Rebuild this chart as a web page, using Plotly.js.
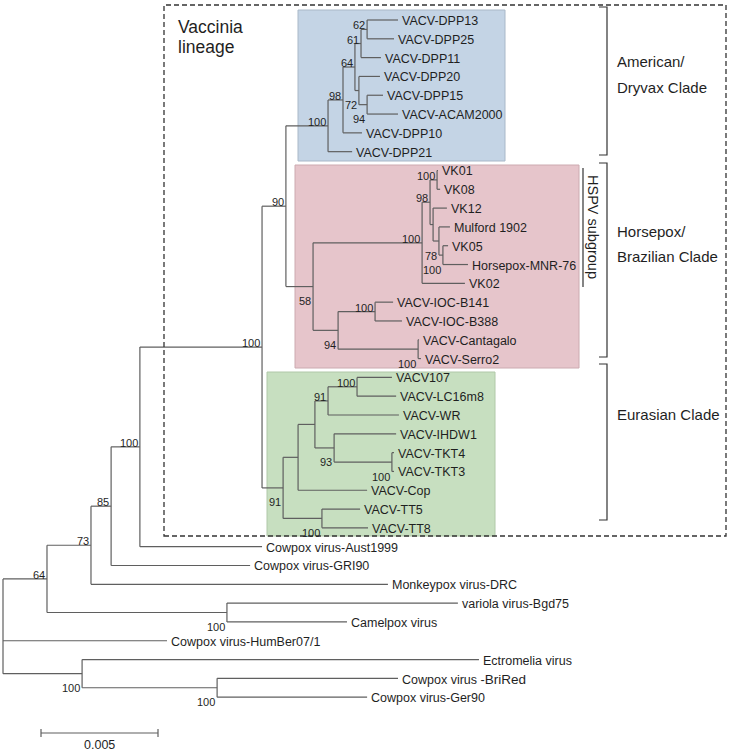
<!DOCTYPE html>
<html><head><meta charset="utf-8">
<script src="https://cdn.plot.ly/plotly-3.0.1.min.js"></script>
<style>html,body{margin:0;padding:0;background:#fff}#chart{width:729px;height:751px}</style>
</head><body><div id="chart"></div>
<script>
// ---------- DATA ----------
// Internal nodes (depth = distance from root, in 0.001 substitutions/site)
const nodeIds     = ['root','n64','n73','n85','n100a','vac','n90','am','am98','am64','am61','am62','am72','am94',
                     'n58','hs','hs98','hs100','hsX','hs78','hsVH','br94','ioc','ser',
                     'eu','eu1','eu2','eu91','eu100','eu93','tkt','tt','vc','ec','bg'];
const nodeParent  = [null,'root','n64','n73','n85','n100a','vac','n90','am','am98','am64','am61','am64','am72',
                     'n90','n58','hs','hs98','hs98','hsX','hs78','n58','br94','br94',
                     'vac','eu','eu1','eu2','eu91','eu2','eu93','eu','n64','root','ec'];
const nodeDepth   = [0,1.88,3.76,4.62,5.85,11.07,12.09,13.89,14.53,15.04,15.30,15.56,15.21,15.56,
                     13.25,17.91,18.25,18.55,18.38,18.63,18.80,14.32,15.90,17.74,
                     11.97,12.61,13.33,13.89,15.13,14.15,16.62,13.63,9.57,3.38,9.15];
const nodeSupport = ['','64','73','85','100','100','90','100','98','64','61','62','72','94',
                     '58','100','98','100','','78','100','94','100','100',
                     '91','','','91','100','93','100','100','100','100','100'];
const supportSide = ['a','a','a','a','a','a','a','a','a','a','a','a','b','b',
                     'b','a','a','a','a','b','b','b','a','b',
                     'b','a','a','a','a','b','b','b','b','b','b'];

// Leaves, in drawing order (top to bottom)
const leafNames  = ['VACV-DPP13','VACV-DPP25','VACV-DPP11','VACV-DPP20','VACV-DPP15','VACV-ACAM2000','VACV-DPP10','VACV-DPP21',
                    'VK01','VK08','VK12','Mulford 1902','VK05','Horsepox-MNR-76','VK02',
                    'VACV-IOC-B141','VACV-IOC-B388','VACV-Cantagalo','VACV-Serro2',
                    'VACV107','VACV-LC16m8','VACV-WR','VACV-IHDW1','VACV-TKT4','VACV-TKT3','VACV-Cop','VACV-TT5','VACV-TT8',
                    'Cowpox virus-Aust1999','Cowpox virus-GRI90','Monkeypox virus-DRC','variola virus-Bgd75','Camelpox virus',
                    'Cowpox virus-HumBer07/1','Ectromelia virus','Cowpox virus -<span style="font-size:13.5px">BriRed</span>','Cowpox virus-Ger90'];
const leafParent = ['am62','am62','am61','am72','am94','am94','am98','am',
                    'hs100','hs100','hsX','hs78','hsVH','hsVH','hs',
                    'ioc','ioc','ser','ser',
                    'eu100','eu100','eu91','eu93','tkt','tkt','eu1','tt','tt',
                    'n100a','n85','n73','vc','vc',
                    'root','ec','bg','bg'];
const leafDepth  = [16.88,16.71,16.15,16.11,16.24,16.88,15.34,14.92,
                    18.59,18.68,18.97,19.10,19.02,19.87,19.74,
                    16.67,17.05,17.78,17.86,
                    16.62,16.80,16.92,16.80,16.71,16.71,15.56,15.26,15.60,
                    11.07,10.56,16.45,19.44,14.70,
                    7.01,20.34,16.88,15.56];

const scaleBarValue = 0.005;     // substitutions/site
const scaleBarLabel = '0.005';
const cladeNames = [['American/','Dryvax Clade'],['Horsepox/','Brazilian Clade'],['Eurasian Clade']];
const lineageLabel = ['Vaccinia','lineage'];
const subgroupLabel = 'HSPV subgroup';

// ---------- LAYOUT HELPERS ----------
const W = 729, H = 751;
const unitPx = 23.4, rootPx = 3;     // px per 0.001 subs/site
const rowPx = 18.81, topPx = 20;
const px = v => v / W, py = v => 1 - v / H;

// ---------- BUILD TREE ----------
const info = {};
nodeIds.forEach((id,i)=>{ info[id] = {depth:nodeDepth[i], parent:nodeParent[i], kids:[], sup:nodeSupport[i], side:supportSide[i]}; });
leafNames.forEach((n,i)=>{ const id='leaf'+i; info[id]={depth:leafDepth[i], parent:leafParent[i], kids:[], y:i, leaf:true, name:n}; });
Object.keys(info).forEach(id=>{ const p=info[id].parent; if(p) info[p].kids.push(id); });
function getY(id){
  const n = info[id];
  if (n.y !== undefined) return n.y;
  const ys = n.kids.map(getY);
  n.ymin = Math.min(...ys); n.ymax = Math.max(...ys);
  n.y = (n.ymin + n.ymax)/2;
  return n.y;
}
getY('root');

const lx = [], ly = [];
Object.keys(info).forEach(id=>{
  const n = info[id];
  if (n.parent){ lx.push(info[n.parent].depth, n.depth, null); ly.push(n.y, n.y, null); }
  if (!n.leaf){ lx.push(n.depth, n.depth, null); ly.push(n.ymin, n.ymax, null); }
});

const LINE = '#5f5f5f', TXT = '#1f1f1f', FONT = 'Liberation Sans, Arial, sans-serif';
const annotations = [];
leafNames.forEach((n,i)=>{
  annotations.push({x:leafDepth[i], y:i, xref:'x', yref:'y', text:n, showarrow:false, xanchor:'left', yanchor:'middle',
    xshift:3, yshift:-1, borderpad:0, font:{family:FONT,size:12.5,color:TXT}});
});
nodeIds.forEach((id,i)=>{
  if (!nodeSupport[i]) return;
  const n = info[id];
  annotations.push({x:n.depth, y:n.y, xref:'x', yref:'y', text:nodeSupport[i], showarrow:false, xanchor:'right', yanchor:'middle',
    xshift:-1, yshift: supportSide[i]==='a' ? 4 : -14.5, borderpad:0, font:{family:FONT,size:11,color:TXT}});
});
// scale bar
const sbStart = (41 - rootPx)/unitPx, sbY = (733 - topPx)/rowPx, sbLen = scaleBarValue*1000;
const tick = 4/rowPx;
const sbx = [sbStart, sbStart+sbLen, null, sbStart, sbStart, null, sbStart+sbLen, sbStart+sbLen];
const sby = [sbY, sbY, null, sbY-tick, sbY+tick, null, sbY-tick, sbY+tick];
annotations.push({x:sbStart+sbLen/2, y:sbY, xref:'x', yref:'y', text:scaleBarLabel, showarrow:false, xanchor:'center', yanchor:'middle', yshift:-12, borderpad:0, font:{family:FONT,size:12.5,color:TXT}});

// labels in figure space
function label(t, x, y, size, opts){ annotations.push(Object.assign({x:px(x), y:py(y), xref:'paper', yref:'paper', text:t, showarrow:false, xanchor:'left', yanchor:'middle', borderpad:0, font:{family:FONT,size:size,color:TXT}}, opts||{})); }
label(lineageLabel[0], 177, 27, 17.5);
label(lineageLabel[1], 177, 47, 17.5);
label(cladeNames[0][0], 616, 62, 15); label(cladeNames[0][1], 616, 87, 15);
label(cladeNames[1][0], 616, 232, 15); label(cladeNames[1][1], 616, 257, 15);
label(cladeNames[2][0], 616, 414, 15);
label(subgroupLabel, 593, 227, 14.5, {textangle:90, xanchor:'center'});

const shapes = [];
function rect(x0,y0,x1,y1,fill,lc){ shapes.push({type:'rect', xref:'paper', yref:'paper', x0:px(x0), x1:px(x1), y0:py(y1), y1:py(y0), fillcolor:fill, line:{color:lc,width:1}, layer:'below'}); }
rect(298,10,505,161,'#c4d4e5','#a9b8c8');
rect(295,165,579,368,'#e6c5cb','#ccaab0');
rect(267,372,495,536,'#c7dfc0','#b0c8a8');
shapes.push({type:'rect', xref:'paper', yref:'paper', x0:px(164), x1:px(726), y0:py(536), y1:py(5), line:{color:'#333',width:1.3,dash:'5px,3px'}, layer:'above'});
function bracket(y0,y1){ shapes.push({type:'path', xref:'paper', yref:'paper', path:`M ${px(599)},${py(y0)} L ${px(607)},${py(y0)} L ${px(607)},${py(y1)} L ${px(599)},${py(y1)}`, line:{color:'#333',width:1.2}}); }
bracket(7,155); bracket(163,357); bracket(364,520);
shapes.push({type:'line', xref:'paper', yref:'paper', x0:px(583), x1:px(583), y0:py(168), y1:py(287), line:{color:'#333',width:1.2}});

const traces = [
  {x:lx, y:ly, mode:'lines', type:'scatter', line:{color:LINE,width:1.2}, hoverinfo:'skip', showlegend:false},
  {x:sbx, y:sby, mode:'lines', type:'scatter', line:{color:LINE,width:1.2}, hoverinfo:'skip', showlegend:false}
];
const layout = {
  width:W, height:H, margin:{l:0,r:0,t:0,b:0}, paper_bgcolor:'#fff', plot_bgcolor:'#fff', showlegend:false,
  xaxis:{range:[-rootPx/unitPx, (W-rootPx)/unitPx], visible:false, fixedrange:true},
  yaxis:{range:[(H-topPx)/rowPx, -topPx/rowPx], visible:false, fixedrange:true},
  annotations, shapes
};
Plotly.newPlot('chart', traces, layout, {staticPlot:true});
</script></body></html>
